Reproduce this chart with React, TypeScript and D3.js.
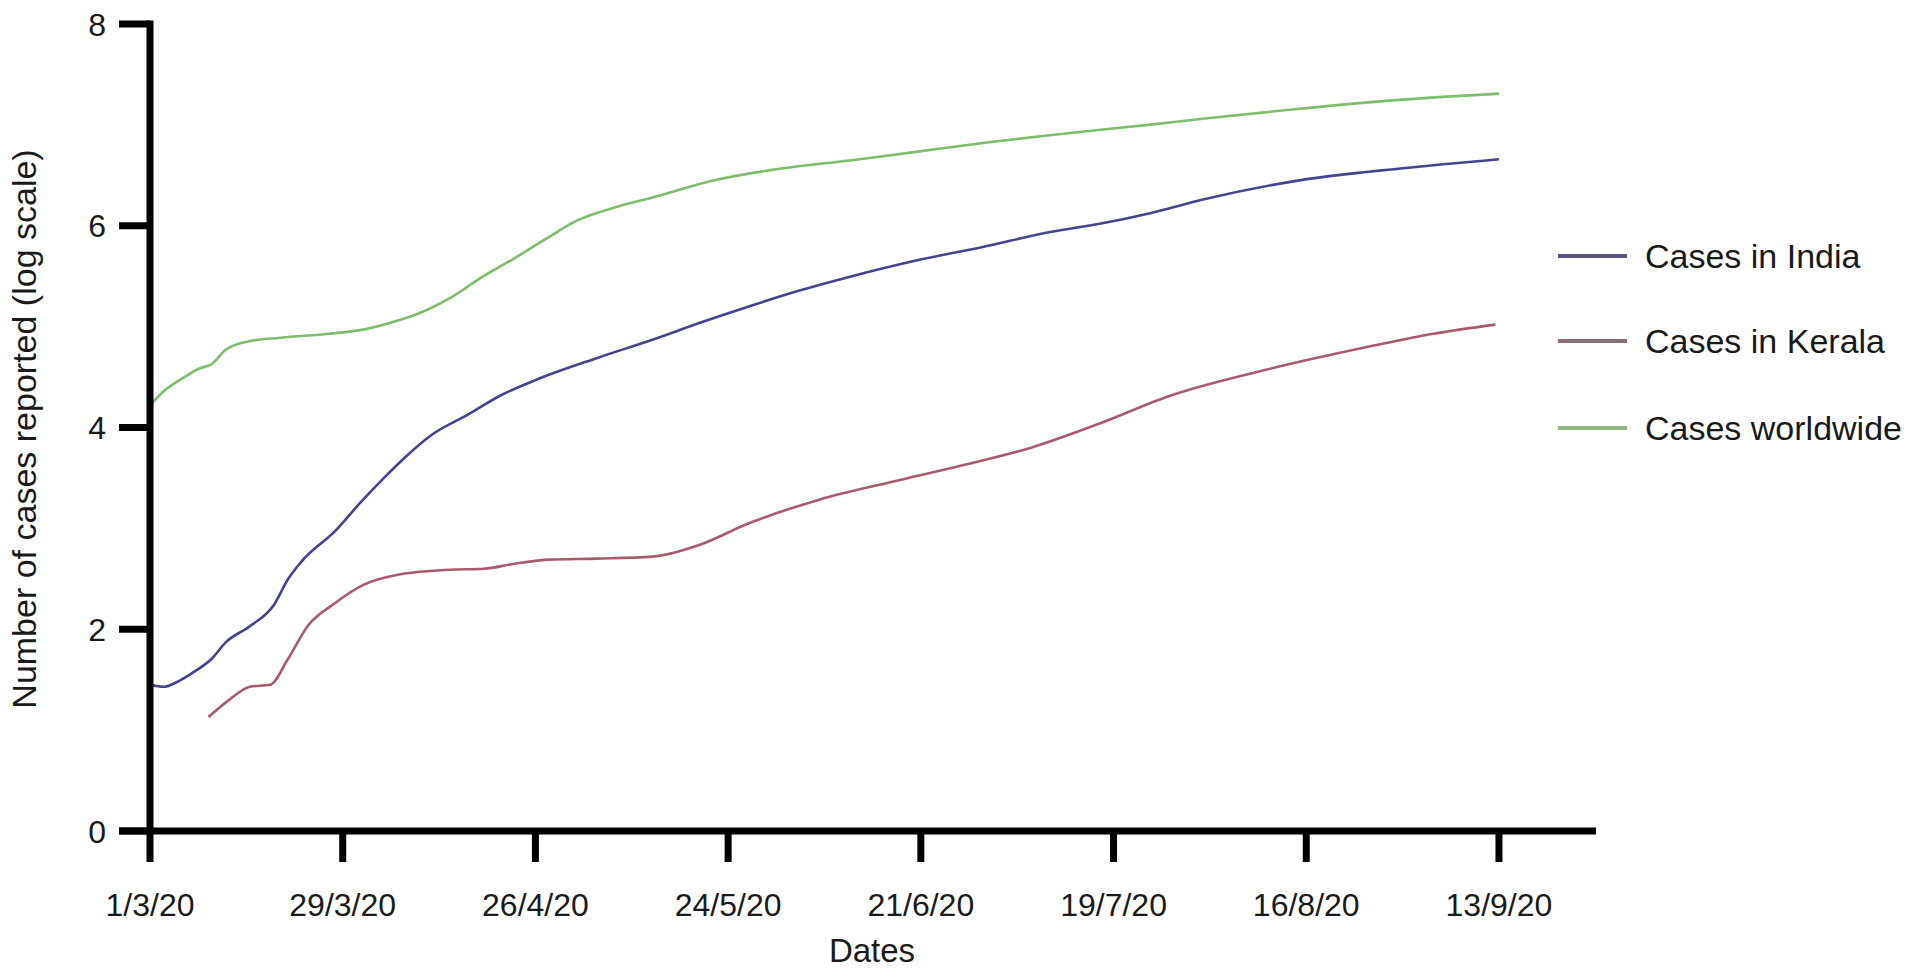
import React from "react";
import * as d3 from "d3";

// ---- data (x = days since 1/3/20, y = log10 cases) ----
const tickDays = [0, 28, 56, 84, 112, 140, 168, 196];
const tickLabels = ["1/3/20", "29/3/20", "26/4/20", "24/5/20", "21/6/20", "19/7/20", "16/8/20", "13/9/20"];
const yTicks = [0, 2, 4, 6, 8];

const indiaDays = [0, 2, 4, 6, 9, 11, 14.5, 18, 20, 22, 27, 30.5, 34, 37, 41, 46, 51, 56, 65, 73, 80, 87, 94, 102, 111, 121, 131, 138, 145, 153, 167, 182, 196];
const indiaVals = [1.45, 1.43, 1.48, 1.56, 1.71, 1.87, 2.03, 2.24, 2.49, 2.67, 2.98, 3.25, 3.5, 3.7, 3.93, 4.12, 4.32, 4.47, 4.69, 4.87, 5.04, 5.2, 5.35, 5.5, 5.65, 5.79, 5.94, 6.02, 6.12, 6.26, 6.45, 6.57, 6.66];

const keralaDays = [8.5, 11.5, 14.5, 17.5, 20, 23, 26.5, 31, 36, 43.5, 48.5, 53, 58, 65, 73, 80, 87, 97, 109, 119, 128, 138, 148, 162, 177, 186.5, 195.5];
const keralaVals = [1.13, 1.3, 1.43, 1.45, 1.7, 2.04, 2.24, 2.44, 2.54, 2.59, 2.6, 2.65, 2.69, 2.7, 2.72, 2.84, 3.05, 3.28, 3.48, 3.64, 3.8, 4.04, 4.31, 4.57, 4.8, 4.93, 5.02];

const worldDays = [0, 2, 5, 7, 9, 11, 14, 19, 26, 31, 36, 39, 44, 48, 53, 58, 62, 68, 73, 82, 92, 102, 111, 121, 131, 145, 153, 167, 182, 196];
const worldVals = [4.22, 4.36, 4.5, 4.58, 4.63, 4.77, 4.85, 4.89, 4.93, 4.97, 5.06, 5.13, 5.3, 5.48, 5.68, 5.89, 6.05, 6.19, 6.28, 6.45, 6.57, 6.65, 6.73, 6.82, 6.9, 7.0, 7.06, 7.16, 7.25, 7.31];

const seriesNames = ["Cases in India", "Cases in Kerala", "Cases worldwide"];
const seriesColors = ["#43438f", "#a95a6c", "#7dbd6c"];
const legendColors = ["#55557f", "#8c7078", "#8fb77f"];

const FONT = "'Liberation Sans', Arial, Helvetica, sans-serif";

export default function App() {
  const W = 1913, H = 975;
  const x = d3.scaleLinear().domain([0, 210.1]).range([150, 1596]);
  const y = d3.scaleLinear().domain([0, 8]).range([831, 24]);

  const line = d3
    .line<[number, number]>()
    .x((d) => x(d[0]))
    .y((d) => y(d[1]))
    .curve(d3.curveMonotoneX);

  const series = [
    d3.zip(indiaDays, indiaVals) as [number, number][],
    d3.zip(keralaDays, keralaVals) as [number, number][],
    d3.zip(worldDays, worldVals) as [number, number][],
  ];

  const axisW = 7;
  const tickLen = 31;
  const x0 = x(0);
  const yBase = y(0);

  return (
    <svg
      width={W}
      height={H}
      style={{ position: "absolute", left: 0, top: 0, background: "#fff" }}
      fontFamily={FONT}
    >
      <rect width={W} height={H} fill="#fff" />
      {series.map((s, i) => (
        <path key={i} d={line(s) || ""} fill="none" stroke={seriesColors[i]} strokeWidth={2.6} strokeLinejoin="round" />
      ))}

      {/* y axis */}
      <line x1={x0} x2={x0} y1={y(8) - axisW / 2} y2={yBase + axisW / 2} stroke="#000" strokeWidth={axisW} />
      {yTicks.map((t) => (
        <g key={t}>
          <line x1={x0 - tickLen} x2={x0} y1={y(t)} y2={y(t)} stroke="#000" strokeWidth={axisW} />
          <text x={x0 - 44} y={y(t)} dy="0.36em" textAnchor="end" fontSize={32} fill="#1a1a1a">
            {t}
          </text>
        </g>
      ))}

      {/* x axis */}
      <line x1={x0 - tickLen} x2={x(210.1)} y1={yBase} y2={yBase} stroke="#000" strokeWidth={axisW} />
      {tickDays.map((d, i) => (
        <g key={d}>
          <line x1={x(d)} x2={x(d)} y1={yBase} y2={yBase + tickLen} stroke="#000" strokeWidth={axisW} />
          <text x={x(d)} y={916} textAnchor="middle" fontSize={32} fill="#1a1a1a">
            {tickLabels[i]}
          </text>
        </g>
      ))}

      {/* axis titles */}
      <text x={872} y={962} textAnchor="middle" fontSize={33} fill="#1a1a1a">
        Dates
      </text>
      <text transform={`translate(36, 429) rotate(-90)`} textAnchor="middle" fontSize={34} fill="#1a1a1a">
        Number of cases reported (log scale)
      </text>

      {/* legend */}
      {seriesNames.map((n, i) => {
        const ly = [256, 341, 428][i];
        return (
          <g key={n}>
            <line x1={1558} x2={1627} y1={ly} y2={ly} stroke={legendColors[i]} strokeWidth={4} />
            <text x={1645} y={ly} dy="0.36em" fontSize={34} fill="#1a1a1a">
              {n}
            </text>
          </g>
        );
      })}
    </svg>
  );
}
